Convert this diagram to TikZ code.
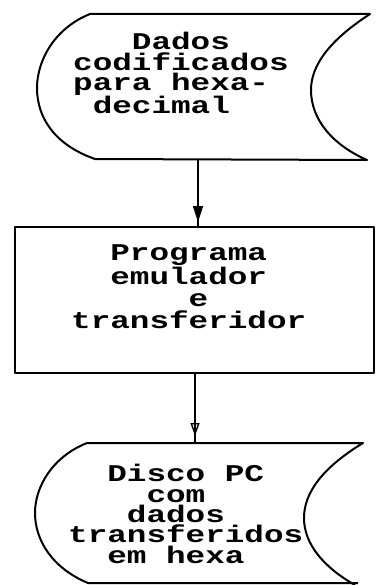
\documentclass[tikz,border=0pt]{standalone}
\usepackage{fontspec}
\newfontfamily\dotfont[FakeStretch=1.36]{Liberation Mono}
\usetikzlibrary{arrows.meta,decorations.markings}
\begin{document}
\begin{tikzpicture}[x=1pt,y=-1pt,
  outline/.style={line width=2pt, line join=round, black},
  txt/.style={anchor=base west, inner sep=0pt, align=left},
  conn/.style={line width=1.6pt},
  headfill/.style={postaction={decorate}, decoration={markings, mark=at position -5pt with {\arrow{Triangle[width=10pt,length=16pt]}}}},
  headopen/.style={postaction={decorate}, decoration={markings, mark=at position -7pt with {\arrow{Triangle[open,width=9pt,length=13pt,line width=1.4pt]}}}}]
\useasboundingbox (0,0) rectangle (376,585);
% top shape: stored data
\draw[outline] (90,14) -- (370,14)
  .. controls (330,40) and (311,65) .. (311,90)
  .. controls (311,120) and (333,145) .. (367,160)
  -- (95,159)
  .. controls (55,145) and (37,118) .. (37,88)
  .. controls (37,60) and (55,28) .. (90,14) -- cycle;
% middle rectangle
\draw[outline] (15,227) rectangle (374,373);
% bottom shape: stored data
\draw[outline] (87,443) -- (363,443)
  .. controls (322,468) and (304,493) .. (304,518)
  .. controls (304,545) and (325,568) .. (355,585);
\draw[outline] (358,583) -- (88,583)
  .. controls (52,568) and (35,540) .. (35,513)
  .. controls (35,487) and (52,457) .. (87,443);
% connector coordinates
\coordinate (topbot) at (198,159);
\coordinate (rectop) at (198,227);
\coordinate (recbot) at (195,373);
\coordinate (bottop) at (195,443);
\draw[conn, headfill] (topbot) -- (rectop);
\draw[conn, headopen] (recbot) -- (bottop);
% texts (anchor = baseline of the last line)
\node[txt, font=\dotfont\bfseries\fontsize{24}{20.5}\selectfont] (a) at (73,114)
  {\phantom{ddd}Dados\\codificados\\para hexa-\\\phantom{d}decimal};
\node[txt, font=\dotfont\bfseries\fontsize{24}{22}\selectfont] (b) at (71,328)
  {\phantom{dd}Programa\\\phantom{dd}emulador\\\phantom{dddddd}e\\transferidor};
\node[txt, font=\dotfont\bfseries\fontsize{24}{20.3}\selectfont] (c) at (68,563)
  {\phantom{dd}Disco PC\\\phantom{dddd}com\\\phantom{ddd}dados\\transferidos\\\phantom{dd}em hexa};
\end{tikzpicture}
\end{document}
